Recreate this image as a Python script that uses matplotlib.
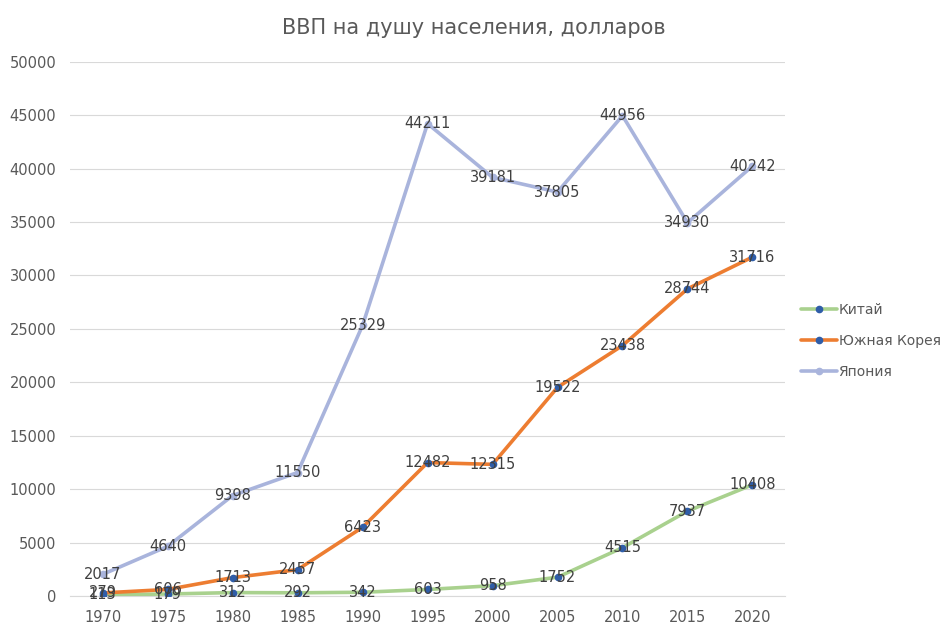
import matplotlib.pyplot as plt

years = ['1970', '1975', '1980', '1985', '1990', '1995', '2000', '2005', '2010', '2015', '2020']
china = [113, 179, 312, 292, 342, 603, 958, 1752, 4515, 7937, 10408]
korea = [279, 606, 1713, 2457, 6423, 12482, 12315, 19522, 23438, 28744, 31716]
japan = [2017, 4640, 9398, 11550, 25329, 44211, 39181, 37805, 44956, 34930, 40242]

series = [
    ('Китай', china, '#A9D18E', '#2F5DA8'),
    ('Южная Корея', korea, '#ED7D31', '#2F5DA8'),
    ('Япония', japan, '#A9B4DC', '#A9B4DC'),
]

fig = plt.figure(figsize=(9.48, 6.24), dpi=100)
ax = fig.add_axes([0.074, 0.045, 0.754, 0.856])

x = list(range(len(years)))
for name, vals, col, mcol in series:
    ax.plot(x, vals, color=col, lw=2.6, marker='o', ms=4.5,
            markerfacecolor=mcol, markeredgecolor=mcol, label=name,
            solid_capstyle='round', zorder=3)
    for xi, v in zip(x, vals):
        ax.text(xi, v, str(v), ha='center', va='center', fontsize=10.5,
                color='#404040', zorder=4)

ax.set_xlim(-0.5, len(years) - 0.5)
ax.set_ylim(0, 50000)
ax.set_yticks(range(0, 50001, 5000))
ax.set_xticks(x)
ax.set_xticklabels(years)
ax.tick_params(axis='both', length=0, labelsize=10.5, labelcolor='#595959')
ax.tick_params(axis='y', pad=10)
ax.tick_params(axis='x', pad=10)
ax.grid(axis='y', color='#D9D9D9', lw=0.8)
ax.set_axisbelow(True)
for s in ['left', 'right', 'top']:
    ax.spines[s].set_visible(False)
ax.spines['bottom'].set_color('#D9D9D9')

fig.text(0.5, 0.955, 'ВВП на душу населения, долларов', ha='center', va='center',
         fontsize=15, color='#595959')

ax.legend(loc='center left', bbox_to_anchor=(1.005, 0.4775), frameon=False,
          fontsize=10, labelcolor='#595959', handlelength=2.6,
          handletextpad=0.1, labelspacing=1.25)

fig.savefig('out.png', dpi=100)
